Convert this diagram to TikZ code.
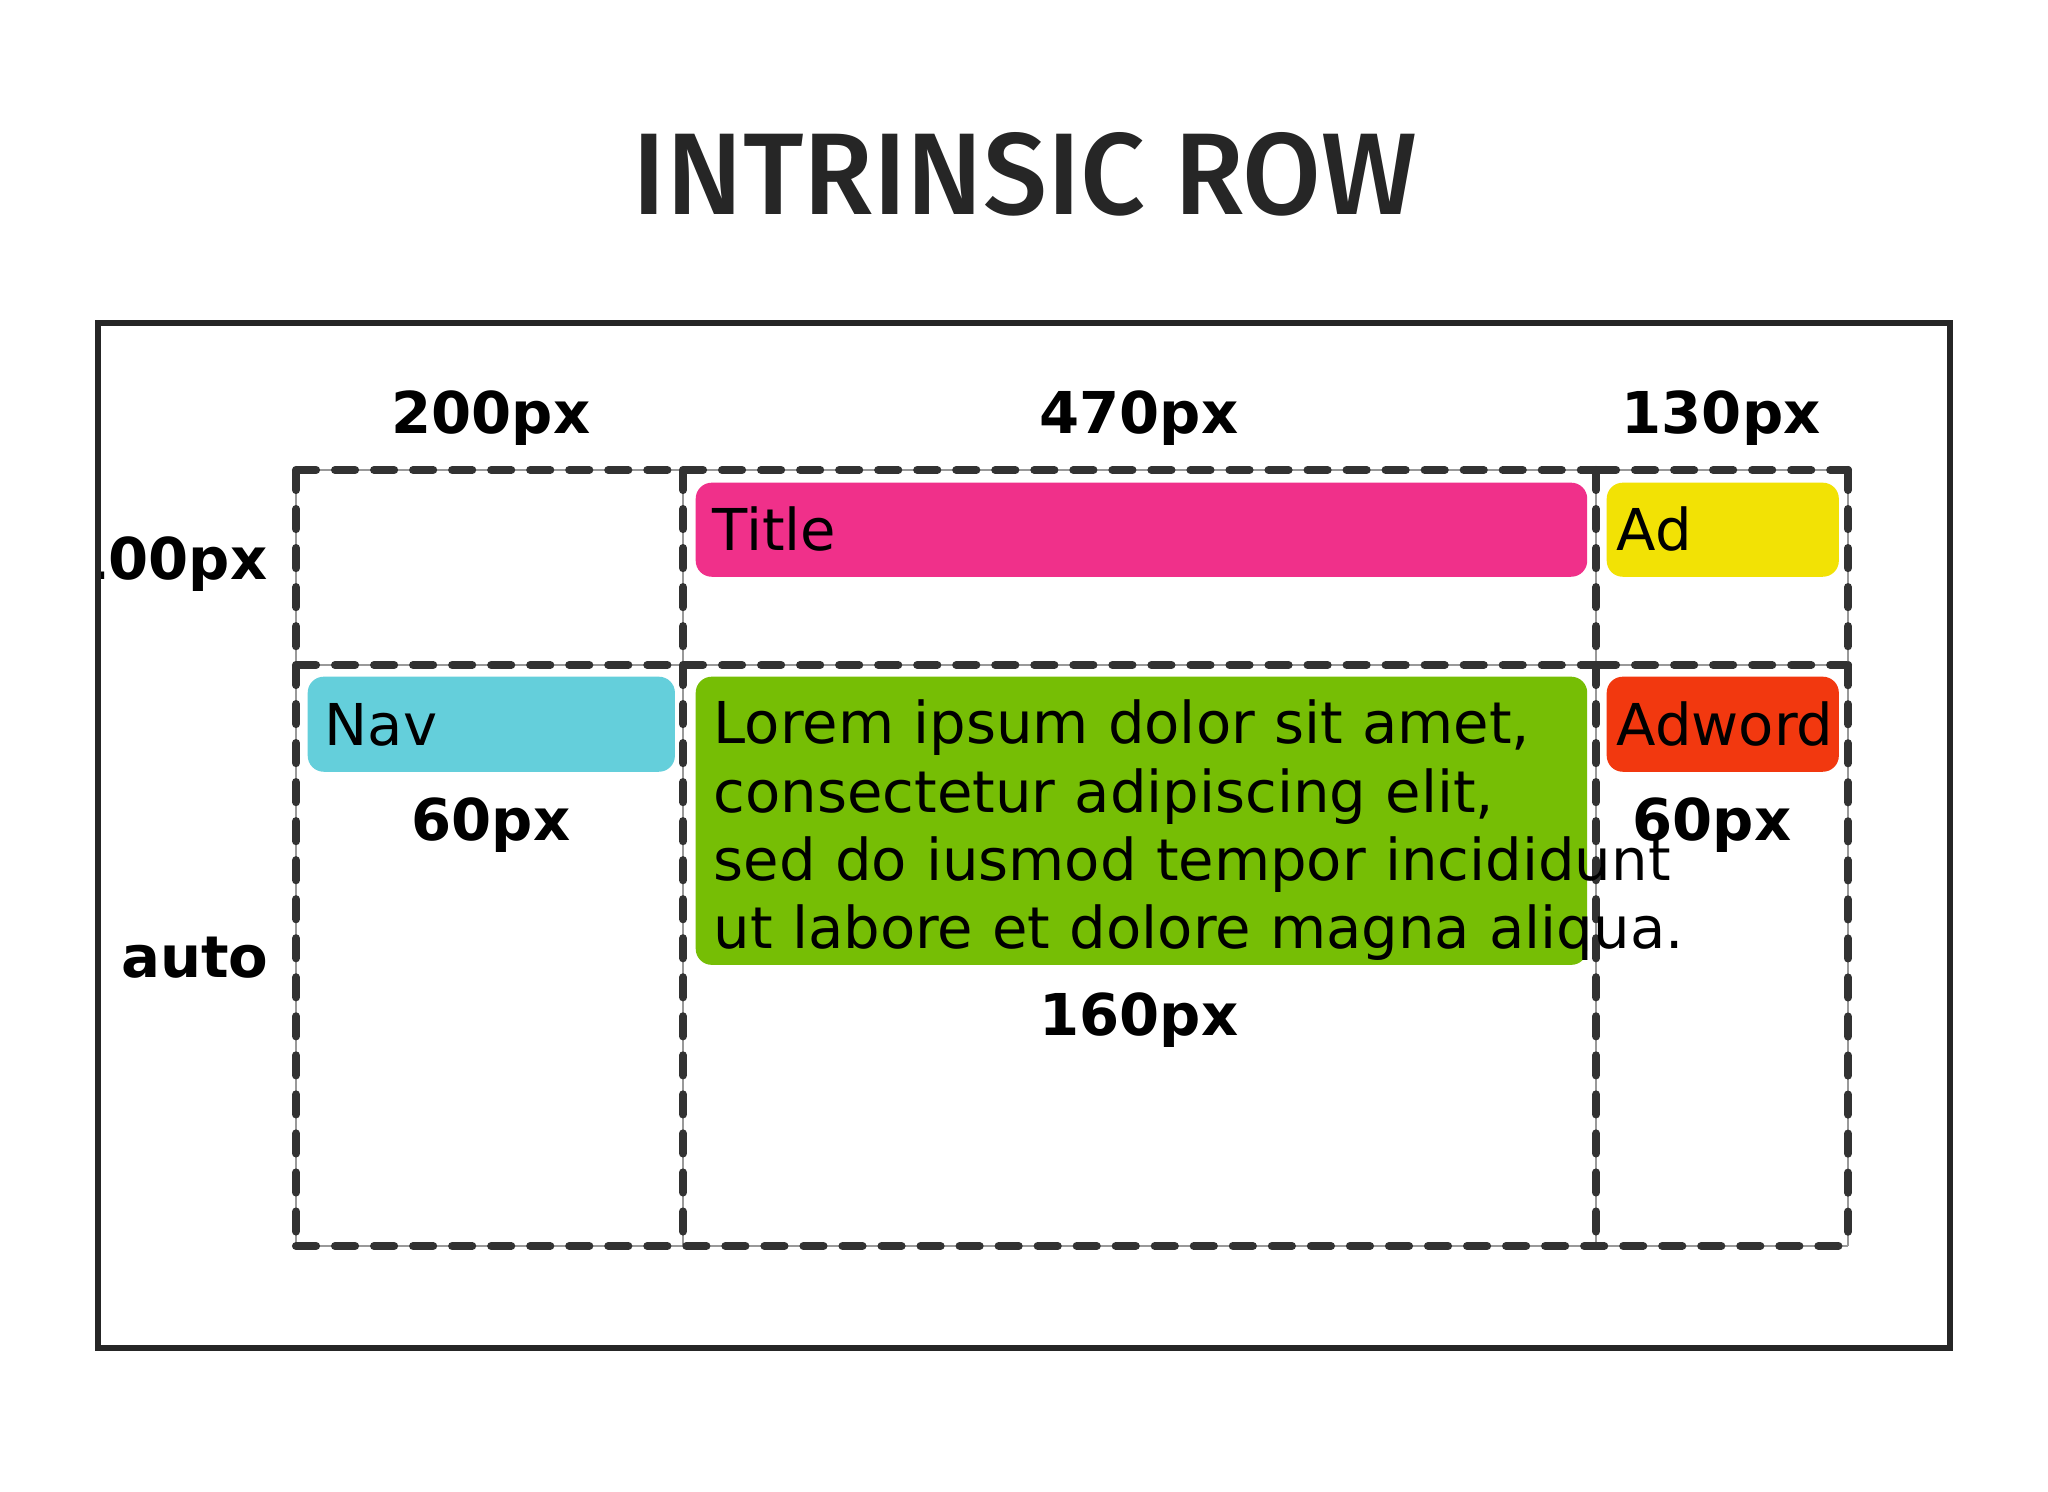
\documentclass[tikz,border=0pt]{standalone}
\usepackage{fontspec}
\setmainfont{DejaVu Sans}
\IfFontExistsTF{Fira Sans Medium}{\newfontfamily\titlefont{Fira Sans Medium}}{\newfontfamily\titlefont{Fira Sans}}
\definecolor{titlepink}{RGB}{240,48,138}
\definecolor{adyellow}{RGB}{242,226,5}
\definecolor{navcyan}{RGB}{100,207,219}
\definecolor{maingreen}{RGB}{118,190,5}
\definecolor{adwordred}{RGB}{242,56,15}
\definecolor{inkgray}{RGB}{50,50,50}
\begin{document}
\begin{tikzpicture}[x=0.01cm, y=-0.01cm, font=\fontsize{16.4pt}{19.35pt}\selectfont,
area/.style={rounded corners=0.16cm, anchor=north west, inner ysep=0pt, text height=12pt, text depth=0pt, align=left},
size_lbl/.style={font=\fontsize{16.4pt}{19.35pt}\selectfont\bfseries, anchor=base, inner sep=0pt},
cell/.style={draw=inkgray, line width=2.3pt, line cap=round, dash pattern=on 5.7pt off 5.4pt, preaction={draw=black!40, line width=0.5pt, solid}}]
    \useasboundingbox[fill=white] (0,0) rectangle (2048,1492);
    % Title and frame
    \node (title) [anchor=base, inner sep=0pt, text=black!85, font=\titlefont\fontsize{31pt}{37pt}\selectfont] at (1025,215) {\resizebox{7.84cm}{0.82cm}{INTRINSIC ROW}};
    \coordinate (f1) at (98,323);
    \coordinate (f2) at (1950,1348);
    \draw[line width=1.7pt, draw=black!85] (f1) rectangle (f2);

    % Grid
    \coordinate (g00) at (296,470);  \coordinate (g10) at (683,470);  \coordinate (g20) at (1596,470);  \coordinate (g30) at (1848,470);
    \coordinate (g01) at (296,665);  \coordinate (g11) at (683,665);  \coordinate (g21) at (1596,665);  \coordinate (g31) at (1848,665);
    \coordinate (g02) at (296,1246); \coordinate (g12) at (683,1246); \coordinate (g22) at (1596,1246); \coordinate (g32) at (1848,1246);
    \draw[cell] (g00) -- (g10) (g00) -- (g01);
    \draw[cell] (g10) -- (g20) (g10) -- (g11);
    \draw[cell] (g20) -- (g30) (g20) -- (g21);
    \draw[cell] (g01) -- (g11) (g01) -- (g02);
    \draw[cell] (g11) -- (g21) (g11) -- (g12);
    \draw[cell] (g21) -- (g31) (g21) -- (g22);
    \draw[cell] (g30) -- (g32);
    \draw[cell] (g02) -- (g32);

    % Items
    \node (head) [area, fill=titlepink, minimum width=8.91cm, minimum height=0.94cm, inner xsep=0.17cm, text width=8.57cm] at (695,482) {Title};
    \node (ad) [area, fill=adyellow, minimum width=2.32cm, minimum height=0.94cm, inner xsep=0.1cm, text width=2.12cm] at (1606,482) {Ad};
    \node (nav) [area, fill=navcyan, minimum width=3.67cm, minimum height=0.95cm, inner xsep=0.17cm, text width=3.33cm] at (307,676) {Nav};
    \node (content) [area, fill=maingreen, minimum width=8.91cm, minimum height=2.88cm, inner sep=0pt, text width=8.91cm] at (695,676) {};
    \node (adword) [area, fill=adwordred, minimum width=2.32cm, minimum height=0.95cm, inner xsep=0.1cm, text width=2.12cm] at (1606,676) {Adword};
    \node (lorem) [anchor=base west, inner sep=0pt, text width=11cm, align=left] at (713,744) {Lorem ipsum dolor sit amet,\\ consectetur adipiscing elit,\\ sed do iusmod tempor incididunt\\ ut labore et dolore magna aliqua.};

    % Sizes
    \node (w_nav) [size_lbl] at (491,434) {200px};
    \node (w_main) [size_lbl] at (1139,434) {470px};
    \node (w_side) [size_lbl] at (1721,434) {130px};
    \begin{scope}
      \clip (101,326) rectangle (1947,1345);
      \node (h_top) [size_lbl, anchor=base east] at (268,580) {100px};
    \end{scope}
    \node (h_auto) [size_lbl, anchor=base east] at (269,978) {auto};
    \node (h_nav) [size_lbl] at (491,841) {60px};
    \node (h_adword) [size_lbl] at (1712,841) {60px};
    \node (h_main) [size_lbl] at (1139,1036) {160px};
\end{tikzpicture}
\end{document}
